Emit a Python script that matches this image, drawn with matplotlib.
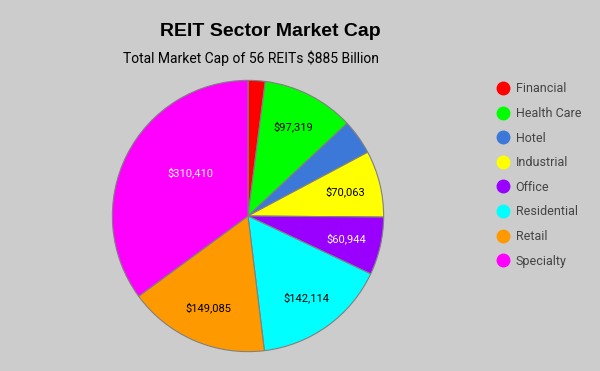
import numpy as np
import matplotlib.pyplot as plt
from matplotlib.lines import Line2D

sectors = ['Financial', 'Health Care', 'Hotel', 'Industrial', 'Office',
           'Residential', 'Retail', 'Specialty']
market_cap = [18000, 97319, 37000, 70063, 60944, 142114, 149085, 310410]
colors = ['#ff0000', '#00ff00', '#3c78d8', '#ffff00', '#9900ff',
          '#00ffff', '#ff9900', '#ff00ff']
label_colors = ['black', 'black', 'black', 'black', 'white',
                'black', 'black', 'white']
show_label = [False, True, False, True, True, True, True, True]

bg = '#cccccc'
fig = plt.figure(figsize=(6, 3.71), dpi=100, facecolor=bg)

# pie axes: centre (248, 216) px, radius 137 px
ax = fig.add_axes([(248 - 137) / 600, (371 - 216 - 137) / 371, 274 / 600, 274 / 371])
ax.set_facecolor(bg)
wedges, _ = ax.pie(market_cap, colors=colors, startangle=90, counterclock=False,
                   radius=1.0, wedgeprops=dict(edgecolor='#808080', linewidth=0.8))
ax.set_xlim(-1.01, 1.01)
ax.set_ylim(-1.01, 1.01)
ax.set_aspect('equal')
ax.axis('off')

# value labels inside slices (the big slice gets its label nearer the centre)
for i, w in enumerate(wedges):
    if not show_label[i]:
        continue
    mid = (w.theta1 + w.theta2) / 2
    r = 0.74
    if market_cap[i] > 300000:
        r, mid = 0.53, mid - 10
    mid = np.radians(mid)
    ax.text(r * np.cos(mid), r * np.sin(mid), f'${market_cap[i]:,}',
            ha='center', va='center', fontsize=8, family='Roboto',
            color=label_colors[i])

fig.text(270 / 600, 1 - 31 / 371, 'REIT Sector Market Cap', ha='center', va='center',
         fontsize=14, fontweight='bold', family='Liberation Sans', color='black')
fig.text(251 / 600, 1 - 58 / 371, 'Total Market Cap of 56 REITs $885 Billion',
         ha='center', va='center', fontsize=10, family='Roboto', color='black')

handles = [Line2D([0], [0], marker='o', linestyle='', markersize=9,
                  markerfacecolor=c, markeredgecolor=c) for c in colors]
fig.legend(handles, sectors, loc='upper left', bbox_to_anchor=(482 / 600, 1 - 71 / 371),
           frameon=False, prop={'family': 'Roboto', 'size': 9},
           labelcolor='#444444', handletextpad=0.3, labelspacing=0.93,
           handlelength=1.5)

fig.savefig('out.png', dpi=100, facecolor=bg)
